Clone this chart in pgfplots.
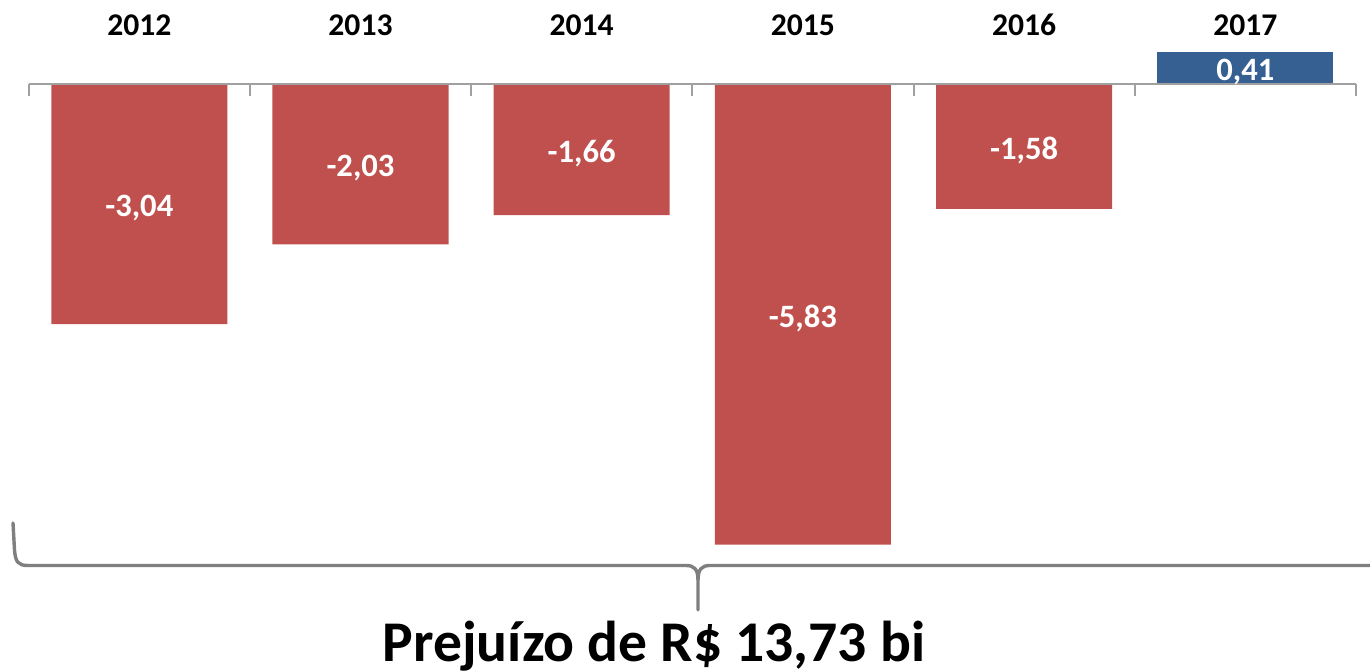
\documentclass[border=0pt]{standalone}
\usepackage{fontspec}
\setmainfont{Carlito}
\usepackage{pgfplots}
\pgfplotsset{compat=1.18}
\definecolor{barred}{HTML}{C0504D}
\definecolor{barblue}{HTML}{376092}
\definecolor{axgray}{HTML}{A0A0A0}
\definecolor{bracegray}{HTML}{7F7F7F}
\begin{document}
\begin{tikzpicture}
\begin{axis}[
  scale only axis, width=685pt, height=336pt,
  xmin=-0.6297, xmax=5.5637, ymin=-7.443, ymax=1.0633,
  axis lines=none, clip=false,
  ybar=0pt, bar width=88pt, bar shift=0pt,
  point meta=explicit symbolic,
  nodes near coords,
  visualization depends on={y \as \rawy},
  every node near coord/.append style={anchor=center, text=white,
    font=\bfseries\fontsize{16.3}{18}\selectfont,
    shift={(axis direction cs:0,-\rawy/2)}, yshift=-2pt},
]
\addplot[fill=barred, draw=none] coordinates {
  (0,-3.04) [-3,04]
  (1,-2.03) [-2,03]
  (2,-1.66) [-1,66]
  (3,-5.83) [-5,83]
  (4,-1.58) [-1,58]
};
\addplot[fill=barblue, draw=none] coordinates {
  (5,0.41) [0,41]
};
\draw[axgray, line width=1pt] (axis cs:-0.5,0) -- (axis cs:5.5,0);
\pgfplotsinvokeforeach{-0.5,0.5,1.5,2.5,3.5,4.5,5.5}{
  \draw[axgray, line width=1pt] (axis cs:#1,0) -- (axis cs:#1,-0.152);
}
\node[anchor=base, font=\bfseries\fontsize{15.8}{18}\selectfont, inner sep=0pt] at (axis cs:0,0.608) {2012};
\node[anchor=base, font=\bfseries\fontsize{15.8}{18}\selectfont, inner sep=0pt] at (axis cs:1,0.608) {2013};
\node[anchor=base, font=\bfseries\fontsize{15.8}{18}\selectfont, inner sep=0pt] at (axis cs:2,0.608) {2014};
\node[anchor=base, font=\bfseries\fontsize{15.8}{18}\selectfont, inner sep=0pt] at (axis cs:3,0.608) {2015};
\node[anchor=base, font=\bfseries\fontsize{15.8}{18}\selectfont, inner sep=0pt] at (axis cs:4,0.608) {2016};
\node[anchor=base, font=\bfseries\fontsize{15.8}{18}\selectfont, inner sep=0pt] at (axis cs:5,0.608) {2017};
\coordinate (TL) at (rel axis cs:0,1);
\end{axis}
\begin{scope}[shift={(TL)}, x=0.5pt, y=-0.5pt]
\draw[bracegray, line width=1.7pt, line cap=round, line join=round]
  (13,523) -- (14.5,550) .. controls (15.5,562) and (18,565.5) .. (28,565.5)
  -- (686,565.5) .. controls (694,565.5) and (698,569) .. (698,580) -- (698,610);
\draw[bracegray, line width=1.7pt, line join=round]
  (1372,565.5) -- (710,565.5) .. controls (702,565.5) and (698,569) .. (698,580);
\node[anchor=base, inner sep=0pt, font=\bfseries\fontsize{28.8}{32}\selectfont] at (654,662) {Prejuízo de R\$ 13,73 bi};
\pgfresetboundingbox
\useasboundingbox (0,0) rectangle (1370,672);
\end{scope}
\end{tikzpicture}
\end{document}
